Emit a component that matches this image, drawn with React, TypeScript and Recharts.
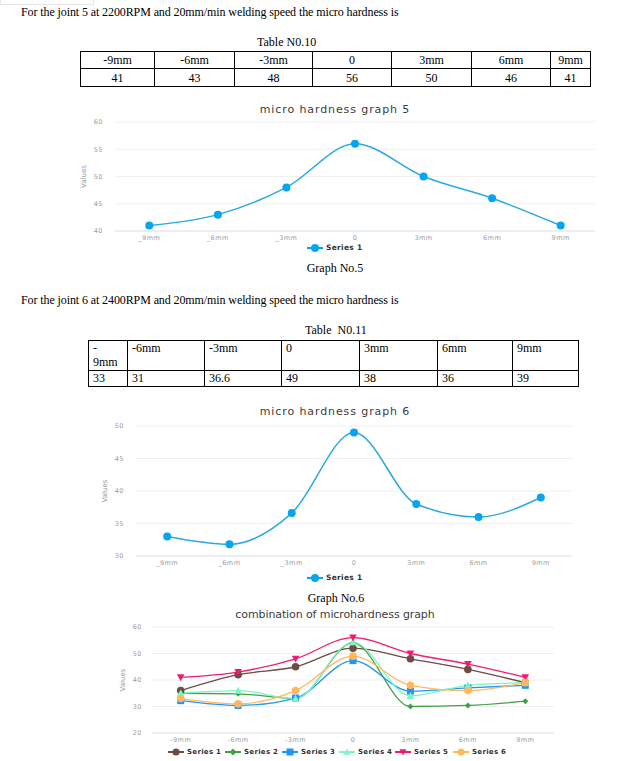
import React from 'react';
import { LineChart, Line, XAxis, YAxis, CartesianGrid, Legend } from 'recharts';

// ---------- data ----------
const tablePositions = ['-9mm', '-6mm', '-3mm', '0', '3mm', '6mm', '9mm'];
const table10Values = ['41', '43', '48', '56', '50', '46', '41'];
const table11Headers = ['-\n9mm', '-6mm', '-3mm', '0', '3mm', '6mm', '9mm'];
const table11Values = ['33', '31', '36.6', '49', '38', '36', '39'];

const graphTicks = ['_9mm', '_6mm', '_3mm', '0', '3mm', '6mm', '9mm'];
const comboTicks = ['-9mm', '-6mm', '-3mm', '0', '3mm', '6mm', '9mm'];

const joint5Values = [41, 43, 48, 56, 50, 46, 41];
const joint6Values = [33, 31.8, 36.6, 49, 38, 36, 39];

const comboSeries1 = [36, 42, 45, 52, 48, 44, 39];
const comboSeries2 = [35, 34.8, 33, 54, 30, 30.4, 32];
const comboSeries3 = [32.2, 30.4, 33.2, 47.3, 35.8, 37, 38];
const comboSeries4 = [35, 36, 33, 54.3, 34, 38, 39];
const comboSeries5 = [41, 43, 48, 56, 50, 46, 41];
const comboSeries6 = [33, 31, 36, 49, 38, 36, 39];

const seriesNames = ['Series 1', 'Series 2', 'Series 3', 'Series 4', 'Series 5', 'Series 6'];
const seriesColors = ['#6d4c41', '#43a047', '#2196f3', '#7df5c4', '#ef1c72', '#ffb95c'];
const seriesShapes = ['circle', 'diamond', 'square', 'triangle', 'triangleDown', 'circle'];

const graph5Data = graphTicks.map((t, i) => ({ pos: t, value: joint5Values[i] }));
const graph6Data = graphTicks.map((t, i) => ({ pos: t, value: joint6Values[i] }));
const comboAll = [comboSeries1, comboSeries2, comboSeries3, comboSeries4, comboSeries5, comboSeries6];
const comboData = comboTicks.map((t, i) => {
  const row: any = { pos: t };
  comboAll.forEach((s, k) => { row['s' + (k + 1)] = s[i]; });
  return row;
});

// ---------- styles ----------
const SERIF = '"Liberation Serif", "Times New Roman", serif';
const SANS = '"DejaVu Sans", Verdana, sans-serif';
const BLUE_LINE = '#2aa9e2';
const BLUE_DOT = '#06a6ef';

const tickStyle = { fontSize: 6.5, fill: '#9c9c9c', fontFamily: SANS, letterSpacing: 0.5 };

function Marker({ cx, cy, shape, color, s }: any) {
  if (cx == null || cy == null) return null;
  switch (shape) {
    case 'diamond':
      return <polygon points={`${cx},${cy - s} ${cx + s},${cy} ${cx},${cy + s} ${cx - s},${cy}`} fill={color} />;
    case 'square':
      return <rect x={cx - s} y={cy - s} width={2 * s} height={2 * s} fill={color} />;
    case 'triangle':
      return <polygon points={`${cx},${cy - s} ${cx + s},${cy + s * 0.8} ${cx - s},${cy + s * 0.8}`} fill={color} />;
    case 'triangleDown':
      return <polygon points={`${cx - s},${cy - s * 0.8} ${cx + s},${cy - s * 0.8} ${cx},${cy + s}`} fill={color} />;
    default:
      return <circle cx={cx} cy={cy} r={s} fill={color} />;
  }
}

function LegendIcon({ shape, color, s }: any) {
  return (
    <svg width={18} height={10} style={{ display: 'block' }}>
      <line x1={1} y1={5} x2={17} y2={5} stroke={color} strokeWidth={2} />
      <Marker cx={9} cy={5} shape={shape} color={color} s={s} />
    </svg>
  );
}

function LegendRow({ items, fontSize }: any) {
  return (
    <div style={{ position: 'relative', height: 10, width: 636 }}>
      {items.map((it: any, i: number) => (
        <div key={i} style={{ position: 'absolute', left: it.x - 9, top: 0, height: 10, display: 'flex', alignItems: 'center' }}>
          <LegendIcon shape={it.shape} color={it.color} s={it.s} />
          <span style={{ marginLeft: 2, fontFamily: SANS, fontWeight: 700, fontSize, color: '#333', letterSpacing: 0.3, lineHeight: '10px', whiteSpace: 'nowrap' }}>{it.name}</span>
        </div>
      ))}
    </div>
  );
}

function Txt({ left, top, size = 12, children, width, align, pre, spacing }: any) {
  return (
    <div style={{ position: 'absolute', left, top, width, textAlign: align, fontFamily: SERIF, fontSize: size, lineHeight: '14px', color: '#000', letterSpacing: spacing, whiteSpace: pre ? 'pre' : 'nowrap' }}>
      {children}
    </div>
  );
}

function ChartTitle({ top, children, spacing = 0.9 }: any) {
  return (
    <div style={{ position: 'absolute', left: 0, top, width: 670, textAlign: 'center', fontFamily: SANS, fontSize: 11, letterSpacing: spacing, color: '#3c3c3c', lineHeight: '14px' }}>
      {children}
    </div>
  );
}

function Table1() {
  const widths = [74, 80, 78, 79, 80, 79, 40];
  const cell: any = { border: '1px solid #000', padding: 0, textAlign: 'center', fontFamily: SERIF, fontSize: 12, lineHeight: '14px' };
  return (
    <table style={{ position: 'absolute', left: 80, top: 51, borderCollapse: 'collapse', tableLayout: 'fixed', width: 511 }}>
      <colgroup>{widths.map((w, i) => <col key={i} style={{ width: w }} />)}</colgroup>
      <tbody>
        <tr style={{ height: 17 }}>{tablePositions.map((p, i) => <td key={i} style={cell}>{p}</td>)}</tr>
        <tr style={{ height: 18 }}>{table10Values.map((v, i) => <td key={i} style={cell}>{v}</td>)}</tr>
      </tbody>
    </table>
  );
}

function Table2() {
  const widths = [39, 77, 77, 78, 78, 75, 66];
  const cell: any = { border: '1px solid #000', padding: '0 0 0 4px', textAlign: 'left', verticalAlign: 'top', fontFamily: SERIF, fontSize: 12, lineHeight: '14px', whiteSpace: 'pre-line' };
  return (
    <table style={{ position: 'absolute', left: 88, top: 340, borderCollapse: 'collapse', tableLayout: 'fixed', width: 490 }}>
      <colgroup>{widths.map((w, i) => <col key={i} style={{ width: w }} />)}</colgroup>
      <tbody>
        <tr style={{ height: 30 }}>{table11Headers.map((p, i) => <td key={i} style={cell}>{p}</td>)}</tr>
        <tr style={{ height: 16 }}>{table11Values.map((v, i) => <td key={i} style={cell}>{v}</td>)}</tr>
      </tbody>
    </table>
  );
}

function SingleChart({ top, height, data, margin, yWidth, domain, ticks, pad, legendTop }: any) {
  return (
    <div style={{ position: 'absolute', left: 0, top, width: 636, height }}>
      <LineChart width={636} height={height} data={data} margin={margin}>
        <CartesianGrid vertical={false} stroke="#f0f0f3" />
        <XAxis dataKey="pos" tickLine={false} tickSize={0} tickMargin={4} height={14} axisLine={{ stroke: '#dfe5ef' }} padding={{ left: pad, right: pad }} tick={tickStyle} interval={0} />
        <YAxis width={yWidth} domain={domain} ticks={ticks} axisLine={false} tickLine={false} tickSize={0} tickMargin={12} tick={tickStyle}
          label={{ value: 'Values', angle: -90, position: 'center', style: { fontSize: 7, fill: '#9a9a9a', fontFamily: SANS } }} />
        <Legend layout="vertical" verticalAlign="middle" align="center" wrapperStyle={{ top: legendTop, left: 0, width: 636 }}
          content={() => <LegendRow fontSize={7.5} items={[{ x: 315, name: 'Series 1', shape: 'circle', color: BLUE_DOT, s: 4 }]} />} />
        <Line type="monotone" dataKey="value" name="Series 1" stroke={BLUE_LINE} strokeWidth={1.5} isAnimationActive={false}
          dot={{ r: 4, fill: BLUE_DOT, stroke: BLUE_DOT, strokeWidth: 0 }} activeDot={false} />
      </LineChart>
    </div>
  );
}

function ComboChart() {
  const legendX = [176, 233, 290, 347, 403, 461];
  const items = seriesNames.map((n, i) => ({ x: legendX[i], name: n, shape: seriesShapes[i], color: seriesColors[i], s: 3.5 }));
  return (
    <div style={{ position: 'absolute', left: 0, top: 600, width: 636, height: 161 }}>
      <LineChart width={636} height={161} data={comboData} margin={{ top: 27, right: 82, left: 94, bottom: 14 }}>
        <CartesianGrid vertical={false} stroke="#f0f0f3" />
        <XAxis dataKey="pos" tickLine={false} tickSize={0} tickMargin={4} height={14} axisLine={{ stroke: '#dfe5ef' }} padding={{ left: 28.7, right: 28.7 }} tick={tickStyle} interval={0} />
        <YAxis width={58} domain={[20, 60]} ticks={[20, 30, 40, 50, 60]} axisLine={false} tickLine={false} tickSize={0} tickMargin={10} tick={tickStyle}
          label={{ value: 'Values', angle: -90, position: 'center', style: { fontSize: 7, fill: '#9a9a9a', fontFamily: SANS } }} />
        <Legend layout="vertical" verticalAlign="middle" align="center" wrapperStyle={{ top: 147, left: 0, width: 636 }}
          content={() => <LegendRow fontSize={7} items={items} />} />
        {seriesNames.map((n, k) => (
          <Line key={n} type="monotone" dataKey={'s' + (k + 1)} name={n} stroke={seriesColors[k]} strokeWidth={1.3} isAnimationActive={false} activeDot={false}
            dot={(p: any) => <Marker key={n + p.index} cx={p.cx} cy={p.cy} shape={seriesShapes[k]} color={seriesColors[k]} s={seriesShapes[k] === 'square' ? 3.5 : seriesShapes[k] === 'diamond' ? 3 : 3.8} />} />
        ))}
      </LineChart>
    </div>
  );
}

export default function App() {
  return (
    <div style={{ position: 'absolute', left: 0, top: 0, width: 636, height: 761, background: '#fff', overflow: 'hidden' }}>
      <div style={{ position: 'absolute', left: 0, top: -10, width: 92, height: 13, border: '1px solid #e6e6e6' }} />
      <Txt left={21} top={5} spacing={-0.1}>For the joint 5 at 2200RPM and 20mm/min welding speed the micro hardness is</Txt>
      <Txt left={257} top={35}>Table N0.10</Txt>
      <Table1 />

      <ChartTitle top={103}>micro hardness graph 5</ChartTitle>
      <SingleChart top={100} height={160} data={graph5Data} margin={{ top: 22, right: 41, left: 53, bottom: 15 }} yWidth={62}
        domain={[40, 60]} ticks={[40, 45, 50, 55, 60]} pad={34.3} legendTop={143} />
      <Txt left={0} top={261} width={670} align="center">Graph No.5</Txt>

      <Txt left={21} top={293} spacing={-0.1}>For the joint 6 at 2400RPM and 20mm/min welding speed the micro hardness is</Txt>
      <Txt left={305} top={323} pre>{'Table  N0.11'}</Txt>
      <Table2 />

      <ChartTitle top={405}>micro hardness graph 6</ChartTitle>
      <SingleChart top={400} height={190} data={graph6Data} margin={{ top: 26, right: 64, left: 74, bottom: 20 }} yWidth={62}
        domain={[30, 50]} ticks={[30, 35, 40, 45, 50]} pad={31.2} legendTop={173} />
      <Txt left={0} top={591} width={672} align="center">Graph No.6</Txt>

      <ChartTitle top={608} spacing={-0.1}>combination of microhardness graph</ChartTitle>
      <ComboChart />
    </div>
  );
}
